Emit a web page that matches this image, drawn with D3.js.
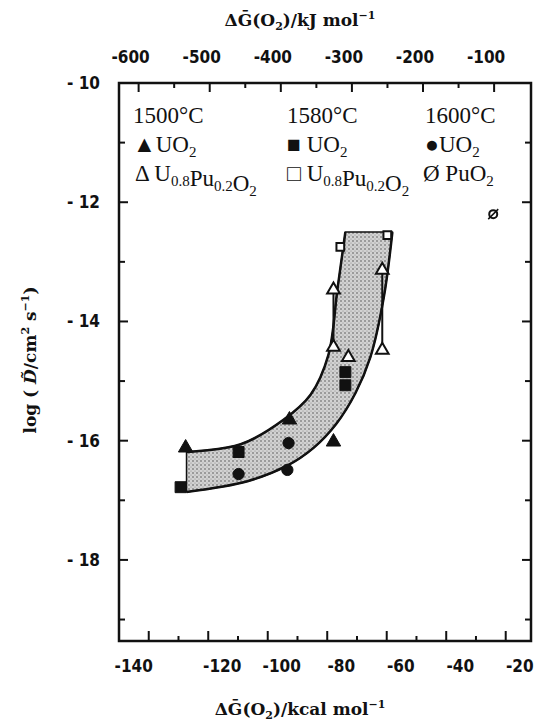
<!DOCTYPE html>
<html>
<head>
<meta charset="utf-8">
<script src="https://cdn.jsdelivr.net/npm/d3@7"></script>
<style>
  body { margin: 0; background: #fff; }
  svg { display: block; }
  .tick-label { font-family: "DejaVu Sans Condensed", "DejaVu Sans", sans-serif; font-weight: bold; font-size: 17px; fill: #111; }
  .axis-title { font-family: "DejaVu Serif", serif; font-weight: bold; font-size: 17px; fill: #111; }
  .legend { font-family: "Liberation Serif", "Times New Roman", serif; font-size: 23px; fill: #111; }
</style>
</head>
<body>
<svg id="chart" width="535" height="726"></svg>
<script>
// values (x in kcal/mol, y = log D)
var uo2At1500 = [[-127.6, -16.12], [-92.7, -15.65], [-77.9, -16.02]];
var uo2At1580 = [[-129.3, -16.78], [-109.8, -16.19], [-73.9, -14.85], [-73.9, -15.07]];
var uo2At1600 = [[-109.8, -16.56], [-93.0, -16.04], [-93.4, -16.49]];
var mixAt1500 = [[-77.9, -13.47], [-77.9, -14.43], [-61.5, -13.14], [-61.5, -14.48], [-72.9, -14.6]];
var mixAt1580 = [[-75.6, -12.75], [-59.8, -12.55]];
var puo2At1600 = [[-24.2, -12.2]];
var errorBars = [[-77.9, -14.43, -13.47], [-61.5, -14.48, -13.14]];

// band boundaries
var bandUpper = [[-127.3, -16.19], [-109.1, -16.06], [-94.7, -15.65], [-85.6, -15.23],
                 [-79.6, -14.56], [-76.6, -13.47], [-73.9, -12.5]];
var bandLower = [[-127.3, -16.86], [-106.8, -16.68], [-93.5, -16.42], [-84.6, -16.12],
                 [-77.0, -15.72], [-70.5, -15.2], [-65.5, -14.6], [-61.0, -13.6], [-58.1, -12.5]];

var kcalTicks = [-140, -120, -100, -80, -60, -40, -20];
var kcalMinor = [-130, -110, -90, -70, -50, -30];
var kjTicks = [-600, -500, -400, -300, -200, -100];
var kjMinor = [-550, -450, -350, -250, -150];
var logTicks = [-10, -12, -14, -16, -18];
var logMinor = [-11, -13, -15, -17, -19];

var svg = d3.select("#chart");

var x = d3.scaleLinear().domain([-150, -11.5]).range([119, 531]);
var y = d3.scaleLinear().domain([-10, -19.36]).range([83, 641]);
var kj = function(v) { return x(v / 4.184); };

var xL = x.range()[0], xR = x.range()[1], yT = y.range()[0], yB = y.range()[1];

// stipple fill
var defs = svg.append("defs");
var pat = defs.append("pattern").attr("id", "stip")
    .attr("width", 4).attr("height", 4).attr("patternUnits", "userSpaceOnUse");
pat.append("rect").attr("width", 4).attr("height", 4).attr("fill", "#d2d2d2");
pat.append("circle").attr("cx", 1).attr("cy", 1).attr("r", 0.8).attr("fill", "#555");
pat.append("circle").attr("cx", 3).attr("cy", 3).attr("r", 0.6).attr("fill", "#888");

var line = d3.line()
    .x(function(d) { return x(d[0]); })
    .y(function(d) { return y(d[1]); })
    .curve(d3.curveCatmullRom.alpha(0.5));

var bandPath = line(bandUpper) + line(bandLower.slice().reverse()).replace(/^M/, "L") + "Z";
svg.append("path").attr("d", bandPath).attr("fill", "url(#stip)").attr("stroke", "#111").attr("stroke-width", 1.5);
svg.append("path").attr("d", line(bandUpper)).attr("fill", "none").attr("stroke", "#111").attr("stroke-width", 2.5);
svg.append("path").attr("d", line(bandLower)).attr("fill", "none").attr("stroke", "#111").attr("stroke-width", 2.5);

// error bars
svg.selectAll(".err").data(errorBars).enter().append("line")
    .attr("x1", function(d) { return x(d[0]); })
    .attr("x2", function(d) { return x(d[0]); })
    .attr("y1", function(d) { return y(d[1]); })
    .attr("y2", function(d) { return y(d[2]); })
    .attr("stroke", "#111").attr("stroke-width", 2);

function markers(data, type, size, filled) {
    svg.append("g").selectAll("path").data(data).enter().append("path")
        .attr("d", d3.symbol().type(type).size(size))
        .attr("transform", function(d) { return "translate(" + x(d[0]) + "," + y(d[1]) + ")"; })
        .attr("fill", filled ? "#111" : "#fff")
        .attr("stroke", "#111")
        .attr("stroke-width", filled ? 1 : 2);
}
markers(uo2At1500, d3.symbolTriangle, 90, true);
markers(uo2At1580, d3.symbolSquare, 120, true);
markers(uo2At1600, d3.symbolCircle, 100, true);
markers(mixAt1500, d3.symbolTriangle, 70, false);
markers(mixAt1580, d3.symbolSquare, 60, false);

// PuO2: slashed circle
var pu = svg.append("g").selectAll("g").data(puo2At1600).enter().append("g")
    .attr("transform", function(d) { return "translate(" + x(d[0]) + "," + y(d[1]) + ")"; });
pu.append("circle").attr("r", 4).attr("fill", "none").attr("stroke", "#111").attr("stroke-width", 2);
pu.append("line").attr("x1", -5).attr("y1", 5).attr("x2", 5).attr("y2", -5).attr("stroke", "#111").attr("stroke-width", 1.5);

// frame
svg.append("rect").attr("x", xL).attr("y", yT).attr("width", xR - xL).attr("height", yB - yT)
    .attr("fill", "none").attr("stroke", "#111").attr("stroke-width", 2.5);

// ticks (inward)
var tk = svg.append("g").attr("stroke", "#111").attr("stroke-width", 2);
function vTicks(vals, pos, yEdge, len) {
    tk.selectAll(null).data(vals).enter().append("line")
        .attr("x1", pos).attr("x2", pos)
        .attr("y1", yEdge).attr("y2", yEdge + len);
}
vTicks(kcalTicks, function(d) { return x(d); }, yB, -10);
vTicks(kcalMinor, function(d) { return x(d); }, yB, -5);
vTicks(kjTicks, function(d) { return kj(d); }, yT, 9);
vTicks(kjMinor, function(d) { return kj(d); }, yT, 5);
function hTicks(vals, len) {
    tk.selectAll(null).data(vals).enter().append("line")
        .attr("y1", function(d) { return y(d); }).attr("y2", function(d) { return y(d); })
        .attr("x1", xL).attr("x2", xL + len);
    tk.selectAll(null).data(vals).enter().append("line")
        .attr("y1", function(d) { return y(d); }).attr("y2", function(d) { return y(d); })
        .attr("x1", xR).attr("x2", xR - len);
}
hTicks(logTicks, 9);
hTicks(logMinor, 6);

// tick labels (the scan has them nudged off the ticks)
svg.append("g").selectAll("text").data(kcalTicks).enter().append("text")
    .attr("class", "tick-label")
    .attr("x", function(d) { return x(d) + (d === -140 ? -15 : 14); })
    .attr("y", 672).attr("text-anchor", "middle")
    .text(function(d) { return d; });
svg.append("g").selectAll("text").data(kjTicks).enter().append("text")
    .attr("class", "tick-label")
    .attr("x", function(d) { return kj(d) - 8; })
    .attr("y", 63).attr("text-anchor", "middle")
    .text(function(d) { return d; });
svg.append("g").selectAll("text").data(logTicks).enter().append("text")
    .attr("class", "tick-label")
    .attr("x", 100).attr("y", function(d) { return y(d) + 6; })
    .attr("text-anchor", "end")
    .text(function(d) { return "- " + Math.abs(d); });

// axis titles
var t1 = svg.append("text").attr("class", "axis-title").attr("x", 300).attr("y", 26).attr("text-anchor", "middle");
t1.append("tspan").text("\u0394\u1E20(O");
t1.append("tspan").attr("dy", 4).attr("font-size", 11).text("2");
t1.append("tspan").attr("dy", -4).text(")/kJ mol");
t1.append("tspan").attr("dy", -7).attr("font-size", 11).text("\u22121");

var t2 = svg.append("text").attr("class", "axis-title").attr("x", 300).attr("y", 715).attr("text-anchor", "middle");
t2.append("tspan").text("\u0394\u1E20(O");
t2.append("tspan").attr("dy", 4).attr("font-size", 11).text("2");
t2.append("tspan").attr("dy", -4).text(")/kcal mol");
t2.append("tspan").attr("dy", -7).attr("font-size", 11).text("\u22121");

var t3 = svg.append("text").attr("class", "axis-title")
    .attr("transform", "translate(36,360) rotate(-90)").attr("text-anchor", "middle");
t3.append("tspan").text("log ( ");
t3.append("tspan").attr("font-style", "italic").text("D\u0303");
t3.append("tspan").text("/cm");
t3.append("tspan").attr("dy", -7).attr("font-size", 11).text("2");
t3.append("tspan").attr("dy", 7).text(" s");
t3.append("tspan").attr("dy", -7).attr("font-size", 11).text("\u22121");
t3.append("tspan").attr("dy", 7).text(")");

// legend
var lg = svg.append("g").attr("class", "legend");
function sub(t, parts) {
    parts.forEach(function(p) {
        if (p[1]) {
            t.append("tspan").attr("dy", 5).attr("font-size", 15).text(p[0]);
            t.append("tspan").attr("dy", -5).text("");
        } else {
            t.append("tspan").text(p[0]);
        }
    });
}
var heads = ["1500\u00B0C", "1580\u00B0C", "1600\u00B0C"];
var colX = [133, 287, 425];
heads.forEach(function(h, i) {
    lg.append("text").attr("x", colX[i]).attr("y", 123).text(h);
});
sub(lg.append("text").attr("x", 133).attr("y", 152), [["\u25B2UO"], ["2", 1]]);
sub(lg.append("text").attr("x", 287).attr("y", 152), [["\u25A0 UO"], ["2", 1]]);
sub(lg.append("text").attr("x", 425).attr("y", 152), [["\u25CFUO"], ["2", 1]]);
sub(lg.append("text").attr("x", 135).attr("y", 181), [["\u0394 U"], ["0.8", 1], ["Pu"], ["0.2", 1], ["O"], ["2", 1]]);
sub(lg.append("text").attr("x", 287).attr("y", 181), [["\u25A1 U"], ["0.8", 1], ["Pu"], ["0.2", 1], ["O"], ["2", 1]]);
sub(lg.append("text").attr("x", 423).attr("y", 181), [["\u00D8 PuO"], ["2", 1]]);
</script>
</body>
</html>
